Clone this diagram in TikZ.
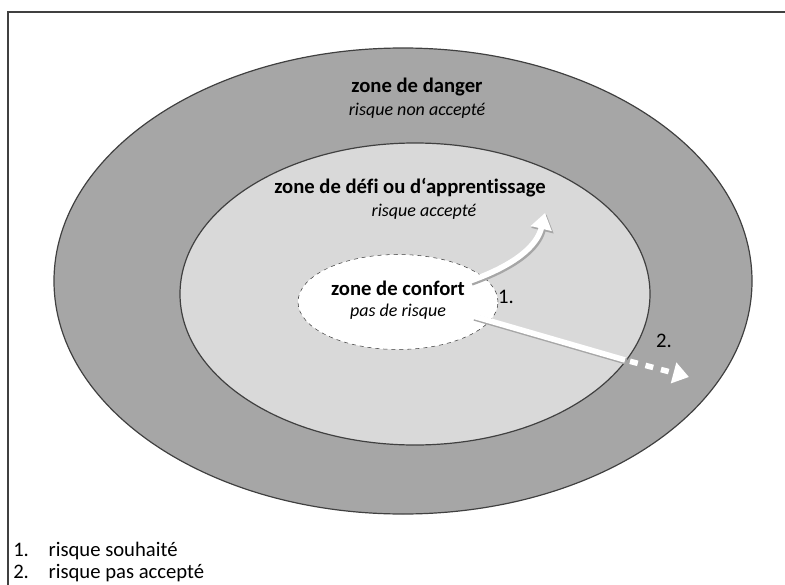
\documentclass[tikz,border=0pt]{standalone}
\usepackage{fontspec}
\setmainfont{Carlito}[Ligatures=NoCommon]
\usetikzlibrary{arrows.meta,shapes.geometric}

\definecolor{danger}{RGB}{166,166,166}
\definecolor{defi}{RGB}{217,217,217}
\definecolor{rim}{RGB}{64,64,64}

\tikzset{
  zone/.style={draw=rim, line width=0.9},
  title/.style={inner sep=0.75pt, font=\fontsize{15.5}{17}\selectfont\bfseries},
  sub/.style={inner sep=0.75pt, font=\fontsize{13.5}{15}\selectfont\itshape},
  legend/.style={anchor=west, inner sep=0.75pt, font=\fontsize{15.5}{17}\selectfont},
  whitearrow/.style={white, line width=4.2, -{Triangle[length=12pt, width=15.5pt]}},
  shadowarrow/.style={black!35, line width=4.8, -{Triangle[length=12.5pt, width=16.5pt]}}
}

\begin{document}
\begin{tikzpicture}[x=0.75pt,y=0.75pt,yscale=-1,xscale=1]
\path[use as bounding box] (0,0) rectangle (785,585);

% frame
\draw [rim, line width=1.1] (8,585) -- (8,12) -- (785,12) ;

% zones
\draw [zone, fill=danger] (403,281) ellipse [x radius=349, y radius=233] ;
\draw [zone, fill=defi] (415,294) ellipse [x radius=235, y radius=151] ;
\node (confort) [ellipse, draw=rim, dashed, fill=white, minimum width=150, minimum height=71.25] at (398,302) {} ;

% Text Node
\node (danger) [title] at (417,87) {zone de danger} ;
\node (dangersub) [sub] at (417,111) {risque non accepté} ;
\node (defi) [title] at (410,188) {zone de défi ou d‘apprentissage} ;
\node (defisub) [sub] at (424,212) {risque accepté} ;
\node (conforttxt) [title] at (398,288) {zone de confort} ;
\node (confortsub) [sub] at (398,312) {pas de risque} ;

% arrow 1
\coordinate (a1) at (470,281) ;
\coordinate (b1) at (545,213) ;
\draw [shadowarrow] ([shift={(1.5,1.5)}]a1) .. controls (517,266) and (538,248) .. ([shift={(1.5,1.5)}]b1) ;
\draw [whitearrow] (a1) .. controls (515,265) and (537,246) .. (b1) ;
\node (n1) [inner sep=0.75pt, font=\fontsize{15.5}{17}\selectfont] at (506,297) {1.} ;

% arrow 2
\coordinate (a2) at (473,316) ;
\coordinate (m2) at (625,360) ;
\coordinate (b2) at (689,377) ;
\draw [black!35, line width=4.8] ([shift={(1.5,1.5)}]a2) -- ([shift={(1.5,1.5)}]m2) ;
\draw [white, line width=4.2] (a2) -- (m2) ;
\draw [white, line width=4.2, dash pattern=on 6 off 6, -{Triangle[length=12pt, width=15.5pt]}] ([shift={(5,1.3)}]m2) -- (b2) ;
\node (n2) [inner sep=0.75pt, font=\fontsize{15.5}{17}\selectfont] at (664,341) {2.} ;

% legend
\node (l1) [legend] at (12,551) {1.\hspace{0.95em}risque souhaité} ;
\node (l2) [legend] at (12,573) {2.\hspace{0.95em}risque pas accepté} ;

\end{tikzpicture}
\end{document}
